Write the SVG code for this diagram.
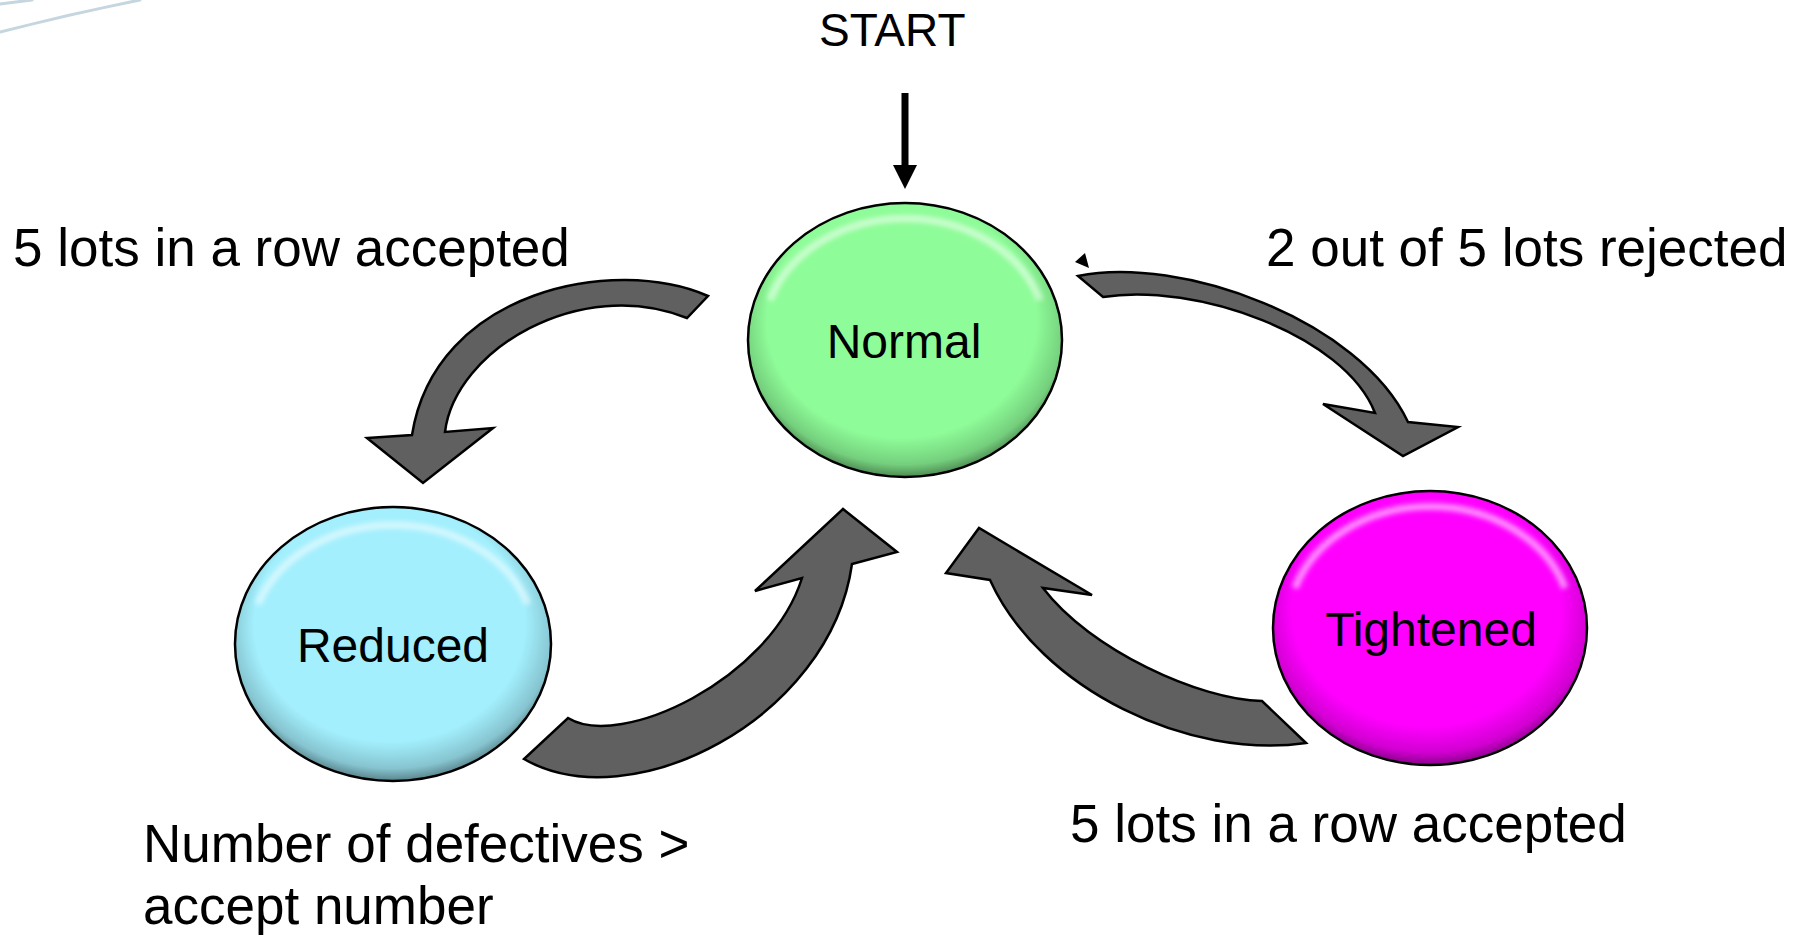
<svg xmlns="http://www.w3.org/2000/svg" width="1808" height="937" viewBox="0 0 1808 937">
<style>
.lbl{font-family:"Liberation Sans",Arial,sans-serif;font-size:53px;fill:#000}
.nl{font-family:"Liberation Sans",Arial,sans-serif;font-size:48px;fill:#000;text-anchor:middle}
.arr{fill:#606060;stroke:#000;stroke-width:2.5;stroke-linejoin:miter}
.edge{stroke:#000;stroke-width:2.5}
.hl{fill:none;stroke:#fff;stroke-width:7;stroke-opacity:0.55;filter:url(#blur)}
</style>
<defs>
<radialGradient id="shade" cx="0.5" cy="0.45" r="0.55" fx="0.45" fy="0.35">
<stop offset="0.78" stop-color="#000" stop-opacity="0"/>
<stop offset="0.93" stop-color="#000" stop-opacity="0.18"/>
<stop offset="1" stop-color="#000" stop-opacity="0.45"/>
</radialGradient>
<filter id="blur" x="-10%" y="-10%" width="120%" height="120%"><feGaussianBlur stdDeviation="2.5"/></filter>
</defs>
<rect width="1808" height="937" fill="#fff"/>
<g id="decor" fill="none" stroke="#c5d6e0" stroke-width="3" stroke-linecap="round">
<path d="M0 32 Q70 14 140 0"/>
<path d="M0 4 L32 0"/>
</g>
<g id="connectors">
<line x1="905" y1="93" x2="905" y2="168" stroke="#000" stroke-width="7"/>
<polygon points="893,165 917,165 905,189" fill="#000"/>
<path class="arr" d="M708 296 C615 255 435 290 412 435 L367 438 L423 483 L493 428 L445 432 C455 350 580 275 687 318 Z"/>
<path class="arr" d="M1078 276 C1180 255 1360 320 1408 422 L1458 427 L1403 456 L1323 404 L1375 413 C1345 335 1195 282 1103 297 Z"/>
<path class="arr" d="M568 718 C620 750 770 680 802 578 L755 591 L843 509 L897 552 L852 564 C830 720 630 820 524 759 Z"/>
<path class="arr" d="M1262 701 C1200 700 1090 650 1043 588 L1092 595 L979 528 L946 573 L990 580 C1040 690 1190 760 1306 743 Z"/>
<polygon points="1075,262 1085,253 1089,268" fill="#000"/>
</g>
<g id="start"><text class="lbl" x="819" y="46" style="font-size:46px">START</text></g>
<g id="normal">
<ellipse cx="905" cy="340" rx="157" ry="137" fill="#8efc98"/>
<ellipse cx="905" cy="340" rx="157" ry="137" fill="url(#shade)"/>
<path class="hl" d="M770 300 A142 118 0 0 1 1040 300"/>
<ellipse cx="905" cy="340" rx="157" ry="137" fill="none" class="edge"/>
<text class="nl" x="904" y="358">Normal</text>
</g>
<g id="reduced">
<ellipse cx="393" cy="644" rx="158" ry="137" fill="#a3effd"/>
<ellipse cx="393" cy="644" rx="158" ry="137" fill="url(#shade)"/>
<path class="hl" d="M258 604 A143 118 0 0 1 528 604"/>
<ellipse cx="393" cy="644" rx="158" ry="137" fill="none" class="edge"/>
<text class="nl" x="393" y="662">Reduced</text>
</g>
<g id="tightened">
<ellipse cx="1430" cy="628" rx="157" ry="137" fill="#ff00ff"/>
<ellipse cx="1430" cy="628" rx="157" ry="137" fill="url(#shade)"/>
<path class="hl" d="M1295 588 A142 118 0 0 1 1565 588"/>
<ellipse cx="1430" cy="628" rx="157" ry="137" fill="none" class="edge"/>
<text class="nl" x="1431" y="646">Tightened</text>
</g>
<g id="labels">
<text class="lbl" x="13" y="266">5 lots in a row accepted</text>
<text class="lbl" x="1266" y="266">2 out of 5 lots rejected</text>
<text class="lbl" x="1070" y="842">5 lots in a row accepted</text>
<text class="lbl" x="143" y="862">Number of defectives &gt;</text>
<text class="lbl" x="143" y="924">accept number</text>
</g>
</svg>
